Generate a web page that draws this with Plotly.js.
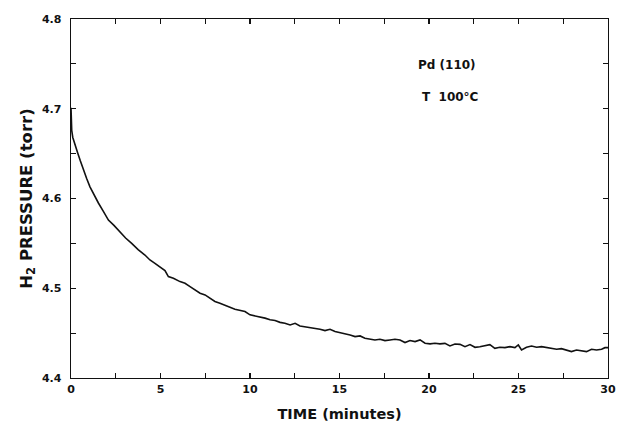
<!DOCTYPE html>
<html>
<head>
<meta charset="utf-8">
<script src="https://cdn.plot.ly/plotly-3.0.1.min.js"></script>
<style>html,body{margin:0;padding:0;background:#fff;}#chart{width:618px;height:428px;}</style>
</head>
<body>
<div id="chart"></div>
<script>
// time in minutes
const timeMin = [0, 0.04, 0.1, 0.18, 0.27, 0.37, 0.52, 0.69, 0.88, 1.06,
  1.3, 1.53, 1.8, 2.09, 2.4, 2.74, 3.05, 3.39, 3.75, 4.13,
  4.41, 4.69, 4.97, 5.25, 5.44, 5.72, 6.09, 6.37, 6.65, 6.93,
  7.21, 7.49, 7.77, 8.04, 8.32, 8.60, 8.88, 9.16, 9.44, 9.72,
  10.00, 10.28, 10.56, 10.84, 11.12, 11.40, 11.68, 11.95,
  12.24, 12.52, 12.79, 13.07, 13.35, 13.63, 13.91, 14.19, 14.47, 14.75,
  15.03, 15.31, 15.59, 15.87, 16.15, 16.42, 16.70, 16.98, 17.26, 17.54,
  17.82, 18.10, 18.38, 18.66, 18.94, 19.22, 19.50, 19.78, 20.06, 20.33,
  20.61, 20.89, 21.17, 21.45, 21.73, 22.01, 22.29, 22.57, 22.84, 23.12,
  23.40, 23.68, 23.96, 24.24, 24.52, 24.80, 24.99, 25.17, 25.45, 25.73,
  26.01, 26.29, 26.57, 26.85, 27.13, 27.40, 27.68, 27.96, 28.24, 28.52,
  28.80, 29.08, 29.36, 29.64, 29.83, 30.0];
// H2 pressure in torr
const pressure = [4.701, 4.676, 4.668, 4.662, 4.656, 4.651, 4.642, 4.632, 4.622, 4.613,
  4.603, 4.595, 4.586, 4.576, 4.570, 4.562, 4.556, 4.550, 4.543, 4.537,
  4.5315, 4.5278, 4.5241, 4.5196, 4.5130, 4.5111, 4.5074, 4.5055, 4.5018, 4.4981,
  4.4944, 4.4926, 4.4889, 4.4852, 4.4833, 4.4814, 4.4789, 4.4767, 4.4752, 4.4741,
  4.4704, 4.4693, 4.4678, 4.4667, 4.4648, 4.4641, 4.4620, 4.4611,
  4.4591, 4.4610, 4.4580, 4.4572, 4.4565, 4.4554, 4.4543, 4.4528, 4.4543, 4.4517,
  4.4506, 4.4498, 4.4480, 4.4461, 4.4469, 4.4443, 4.4432, 4.4424, 4.4432, 4.4417,
  4.4424, 4.4432, 4.4424, 4.4395, 4.4417, 4.4406, 4.4424, 4.4387, 4.4380, 4.4387,
  4.4380, 4.4386, 4.4357, 4.4379, 4.4375, 4.4349, 4.4372, 4.4342, 4.4349, 4.4357,
  4.4372, 4.4331, 4.4342, 4.4338, 4.4349, 4.4338, 4.4368, 4.4312, 4.4342, 4.4357,
  4.4342, 4.4349, 4.4338, 4.4334, 4.4320, 4.4327, 4.4312, 4.4294, 4.4312, 4.4305,
  4.4294, 4.4320, 4.4312, 4.4320, 4.4338, 4.4338];

const xTickVals = [0, 5, 10, 15, 20, 25, 30];
const xTickText = ["0", "5", "10", "15", "20", "25", "30"];
const yTickVals = [4.4, 4.5, 4.6, 4.7, 4.8];
const yTickText = ["4.4", "4.5", "4.6", "4.7", "4.8"];

const boldFont = {family: "DejaVu Sans, Liberation Sans, sans-serif", color: "#111", weight: 700};
const f = (size) => Object.assign({size: size}, boldFont);

const trace = {
  x: timeMin, y: pressure, type: "scatter", mode: "lines",
  line: {color: "#111", width: 1.6}, hoverinfo: "skip"
};

const layout = {
  width: 618, height: 428,
  margin: {l: 71, r: 10, t: 19, b: 50},
  paper_bgcolor: "#fff", plot_bgcolor: "#fff",
  showlegend: false,
  xaxis: {
    range: [0, 30], tickvals: xTickVals, ticktext: xTickText,
    ticks: "inside", ticklen: 5, tickwidth: 1.2, tickcolor: "#111",
    minor: {dtick: 2.5, tick0: 0, ticks: "inside", ticklen: 5, tickwidth: 1.2, tickcolor: "#111", showgrid: false},
    showline: true, linecolor: "#111", linewidth: 1.4, mirror: "ticks",
    showgrid: false, zeroline: false,
    tickfont: f(11),
    title: {text: "TIME (minutes)", font: f(14.5), standoff: 14}
  },
  yaxis: {
    range: [4.4, 4.8], tickvals: yTickVals, ticktext: yTickText,
    ticks: "inside", ticklen: 5, tickwidth: 1.2, tickcolor: "#111",
    minor: {dtick: 0.05, tick0: 4.4, ticks: "inside", ticklen: 5, tickwidth: 1.2, tickcolor: "#111", showgrid: false},
    showline: true, linecolor: "#111", linewidth: 1.4, mirror: "ticks",
    showgrid: false, zeroline: false,
    tickfont: f(11),
    ticklabelstandoff: 6,
    title: {text: "H<sub>2</sub> PRESSURE (torr)", font: f(16.5), standoff: 5}
  },
  annotations: [
    {x: 0.6425, y: 0.872, xref: "paper", yref: "paper", text: "Pd (110)", showarrow: false,
     font: f(12), xanchor: "left", yanchor: "middle"},
    {x: 0.65, y: 0.783, xref: "paper", yref: "paper", text: "T  100°C", showarrow: false,
     font: f(12), xanchor: "left", yanchor: "middle"}
  ]
};

Plotly.newPlot("chart", [trace], layout, {displayModeBar: false, staticPlot: true});
</script>
</body>
</html>
